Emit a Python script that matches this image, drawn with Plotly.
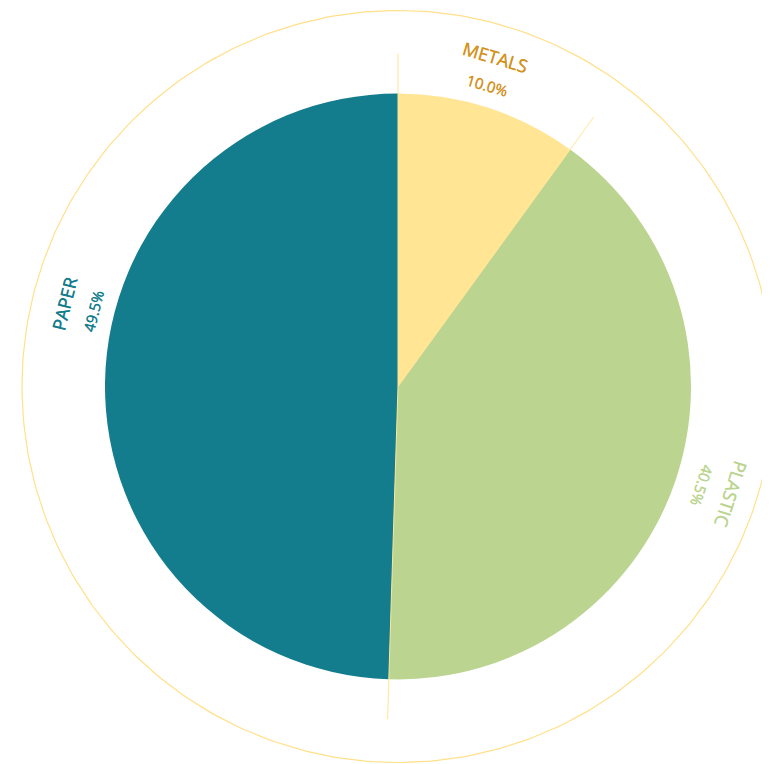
import math
import plotly.graph_objects as go

# ---- data ----
categories = ["METALS", "PLASTIC", "PAPER"]
values = [10.0, 40.5, 49.5]
slice_colors = ["#FFE594", "#BBD590", "#137C8D"]
label_colors = ["#D4931E", "#BBD590", "#137C8D"]

# ---- geometry (pixels) ----
W, H = 762, 756          # page has default 8px body margin
CX, CY = 390, 378.5      # pie centre (from top-left of figure)
R_PIE = 293
R_OUTER = 376 / R_PIE    # outer guide circle (in pie-radius units)
R_TICK = 333 / R_PIE     # radial divider length
R_NAME = 344
R_PCT = 314
label_nudge = [-1.5, -1.0, 13.0]   # angular nudges of labels (deg)
label_push = [0, 6, 0]             # radial nudges of labels (px)

total = sum(values)
cum = [0.0]
for v in values:
    cum.append(cum[-1] + v)
bound_angles = [360.0 * c / total for c in cum[:-1]]
mid_angles = [360.0 * (cum[i] + values[i] / 2) / total for i in range(len(values))]

cy_b = H - CY
xr = [-CX / R_PIE, (W - CX) / R_PIE]
yr = [-cy_b / R_PIE, (H - cy_b) / R_PIE]

fig = go.Figure()

# outer guide circle
th = [i for i in range(0, 361)]
fig.add_trace(go.Scatter(
    x=[R_OUTER * math.sin(math.radians(t)) for t in th],
    y=[R_OUTER * math.cos(math.radians(t)) for t in th],
    mode="lines", line=dict(color="#FFE08A", width=1.2),
    hoverinfo="skip", showlegend=False))

fig.add_trace(go.Pie(
    labels=categories, values=values, sort=False, direction="clockwise",
    rotation=0, textinfo="none", showlegend=False,
    marker=dict(colors=slice_colors, line=dict(width=0)),
    domain=dict(x=[(CX - R_PIE) / W, (CX + R_PIE) / W],
                y=[(cy_b - R_PIE) / H, (cy_b + R_PIE) / H])))

shapes = []
for a in bound_angles:
    r = math.radians(a)
    shapes.append(dict(type="line", xref="x", yref="y", layer="above",
                       x0=0, y0=0, x1=R_TICK * math.sin(r), y1=R_TICK * math.cos(r),
                       line=dict(color="#FFE594", width=1)))

annotations = []
for i, name in enumerate(categories):
    a = mid_angles[i] + label_nudge[i]
    r = math.radians(a)
    ang = ((a + 180) % 360) - 180
    pct = 100 * values[i] / total
    rn = (R_NAME + label_push[i]) / R_PIE
    rp = (R_PCT + label_push[i]) / R_PIE
    sh = f"0.35px 0.35px 0px {label_colors[i]}"
    annotations.append(dict(x=rn * math.sin(r), y=rn * math.cos(r),
                            xref="x", yref="y", text=name, showarrow=False,
                            textangle=ang, xanchor="center", yanchor="middle",
                            font=dict(family="Open Sans", size=18, weight=400,
                                      color=label_colors[i], shadow=sh)))
    annotations.append(dict(x=rp * math.sin(r), y=rp * math.cos(r),
                            xref="x", yref="y", text=f"{pct:.1f}%", showarrow=False,
                            textangle=ang, xanchor="center", yanchor="middle",
                            font=dict(family="Open Sans", size=15, weight=400,
                                      color=label_colors[i], shadow=sh)))

fig.update_layout(
    width=W, height=H, margin=dict(l=0, r=0, t=0, b=0),
    paper_bgcolor="white", plot_bgcolor="white",
    xaxis=dict(range=xr, visible=False, fixedrange=True),
    yaxis=dict(range=yr, visible=False, fixedrange=True),
    shapes=shapes, annotations=annotations)

fig.write_html("out.html")
